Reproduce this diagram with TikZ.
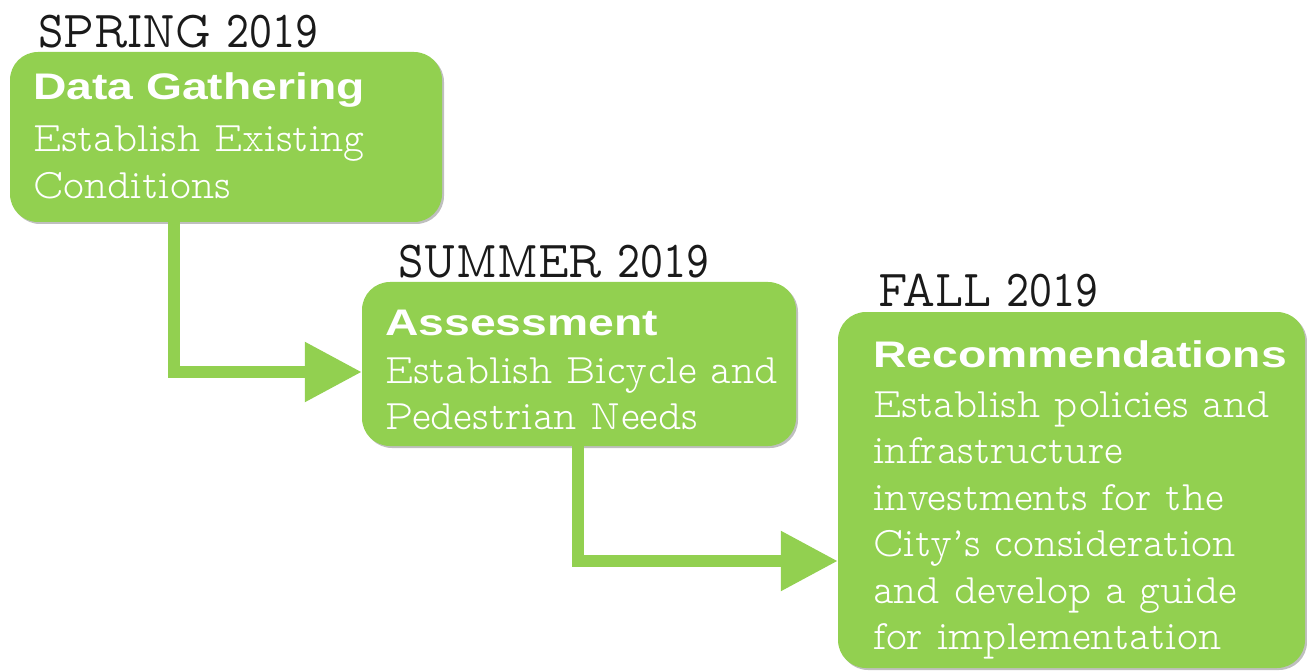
\documentclass[tikz,border=0pt]{standalone}
\usepackage{fontspec}
\usetikzlibrary{arrows.meta,shadows}
\newfontfamily\slab{lmmonoproplt10-regular.otf}[FakeStretch=0.95]
\newfontfamily\slabreg{lmmonoprop10-regular.otf}[FakeStretch=0.84]
\newfontfamily\heavy{Liberation Sans Bold}[FakeStretch=1.25]
\definecolor{leaf}{HTML}{92D050}
\definecolor{ink}{HTML}{1A1A1A}
% stacked lines, aligned on the baseline of the first one
\newcommand{\stackedlines}[1]{\begin{tabular}[t]{@{}l@{}}#1\end{tabular}}
\tikzset{
  phase/.style={draw=none, fill=leaf, rounded corners=28pt, inner sep=0pt,
    drop shadow={shadow xshift=2pt, shadow yshift=-2pt, fill=black, opacity=0.25}},
  season/.style={anchor=base west, inner sep=0pt, text=ink, font=\slabreg\fontsize{52}{52}\selectfont},
  heading/.style={anchor=base west, inner sep=0pt, text=white, font=\heavy\fontsize{37}{40}\selectfont},
  detail/.style={anchor=base west, inner sep=0pt, text=white,
    font=\slab\fontsize{42}{46.5}\selectfont},
  flow/.style={draw=leaf, line width=12pt, -{Triangle[length=57pt,width=57pt]}}
}
\begin{document}
\begin{tikzpicture}[x=1pt,y=-1pt]
\useasboundingbox (0,0) rectangle (1307,671);

% the three phase boxes
\node[phase, minimum width=432pt, minimum height=170pt] (gather) at (226,137) {};
\node[phase, minimum width=434pt, minimum height=164pt] (assess) at (579,364) {};
\node[phase, minimum width=467pt, minimum height=356pt] (recommend) at (1071.5,490) {};

% connectors between phases
\draw[flow] ([xshift=-52pt]gather.south) |- ([yshift=-8pt]assess.west);
\draw[flow] ([xshift=216pt]assess.south west) |- ([yshift=-71pt]recommend.west);

% season labels
\node[season] (spring) at (38,48) {SPRING 2019};
\node[season] (summer) at (398,278) {SUMMER 2019};
\node[season] (fall) at (878,306) {FALL 2019};

% phase titles
\node[heading] (t1) at (33,100) {Data Gathering};
\node[heading] (t2) at (385,335) {Assessment};
\node[heading] (t3) at (873,367) {Recommendations};

% phase descriptions
\node[detail] (d1) at (33,152) {\stackedlines{Establish Existing\\Conditions}};
\node[detail] (d2) at (385,383) {\stackedlines{Establish Bicycle and\\Pedestrian Needs}};
\node[detail] (d3) at (873,417) {\stackedlines{Establish policies and\\infrastructure\\investments for the\\City’s consideration\\and develop a guide\\for implementation}};
\end{tikzpicture}
\end{document}
